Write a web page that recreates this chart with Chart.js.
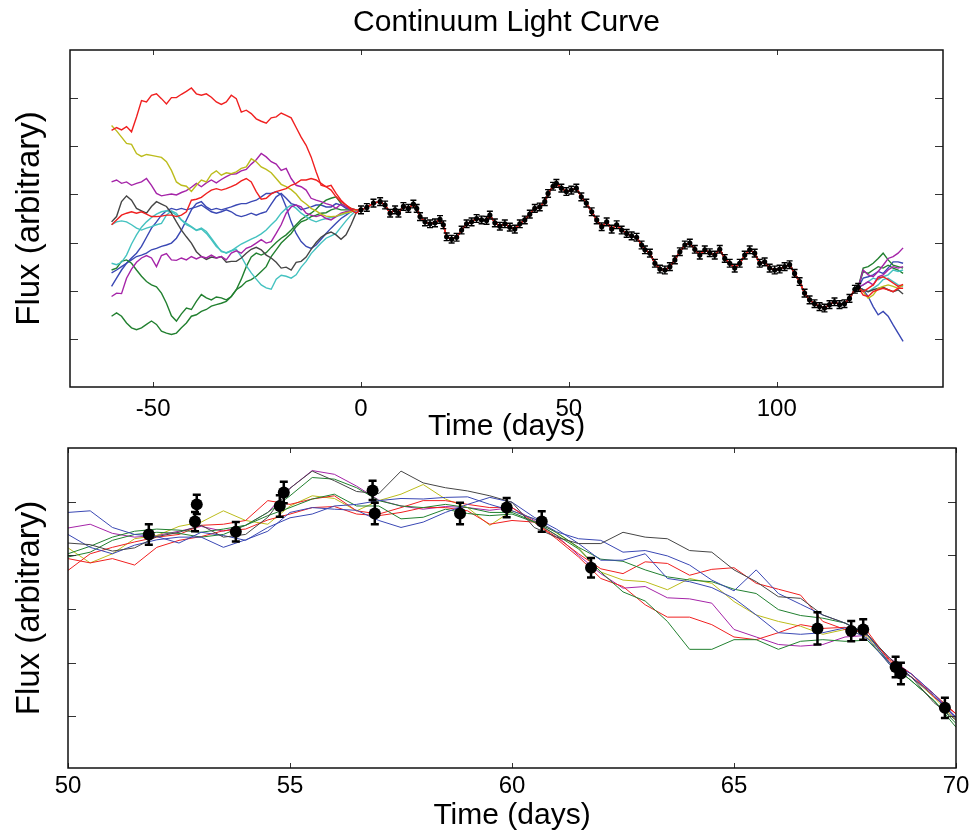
<!DOCTYPE html>
<html>
<head>
<meta charset="utf-8">
<script src="https://cdn.jsdelivr.net/npm/chart.js@4.4.0/dist/chart.umd.min.js"></script>
<style>
  body { margin: 0; background: #fff; }
  #wrap { position: relative; width: 969px; height: 831px; }
  #top { position: absolute; left: 0; top: 0; }
  #bot { position: absolute; left: 0; top: 442px; }
</style>
</head>
<body>
<div id="wrap">
  <canvas id="top" width="969" height="442"></canvas>
  <canvas id="bot" width="969" height="389"></canvas>
</div>
<script>
// ---------- top panel: whole light curve ----------
const topXTicks = [-50, 0, 50, 100];
const topYTicks = [0, 1, 2, 3, 4, 5];

// model curves before the data starts
const preT = [-60, -58.8, -57.6, -56.4, -55.2, -54, -52.8, -51.6, -50.4, -49.2, -48, -46.8, -45.6, -44.4, -43.2, -42, -40.8, -39.6, -38.4, -37.2,
  -36, -34.8, -33.6, -32.4, -31.2, -30, -28.8, -27.6, -26.4, -25.2, -24, -22.8, -21.6, -20.4, -19.2, -18, -16.8, -15.6, -14.4, -13.2,
  -12, -10.8, -9.6, -8.4, -7.2, -6, -4.8, -3.6, -2.4, -1.2];

const preRedA = [4.33, 4.39, 4.34, 4.41, 4.30, 4.61, 4.95, 4.92, 5.06, 5.09, 4.99, 4.88, 5.01, 5.01, 5.08, 5.14, 5.21, 5.09, 5.06, 5.09,
  5.02, 4.92, 4.87, 4.92, 5.06, 4.99, 4.71, 4.75, 4.68, 4.57, 4.52, 4.48, 4.59, 4.61, 4.69, 4.64, 4.59, 4.39, 4.19, 4.02,
  3.78, 3.47, 3.19, 3.16, 3.19, 3.02, 2.88, 2.78, 2.68, 2.61];
const preRedB = [2.37, 2.47, 2.57, 2.61, 2.64, 2.61, 2.64, 2.59, 2.54, 2.54, 2.55, 2.57, 2.57, 2.54, 2.57, 2.64, 2.88, 2.90, 2.94, 3.02,
  3.09, 3.12, 3.09, 3.12, 3.16, 3.21, 3.28, 3.33, 3.26, 3.06, 2.90, 2.92, 3.01, 3.06, 3.09, 3.12, 3.19, 3.23, 3.30, 3.30,
  3.33, 3.30, 3.23, 3.16, 3.09, 2.95, 2.85, 2.78, 2.71, 2.68];
const preYel = [4.43, 4.32, 4.19, 4.06, 4.04, 3.85, 3.79, 3.83, 3.81, 3.79, 3.77, 3.68, 3.50, 3.26, 3.19, 3.17, 3.06, 3.19, 3.30, 3.26,
  3.42, 3.49, 3.40, 3.45, 3.43, 3.47, 3.54, 3.57, 3.74, 3.68, 3.57, 3.52, 3.45, 3.33, 3.21, 3.16, 3.10, 3.01, 2.88, 2.80,
  2.71, 2.66, 2.59, 2.55, 2.54, 2.55, 2.59, 2.62, 2.64, 2.68];
const preMagA = [3.26, 3.30, 3.23, 3.26, 3.19, 3.23, 3.26, 3.33, 3.19, 3.02, 2.97, 2.99, 3.01, 2.99, 3.04, 3.08, 3.15, 3.23, 3.16, 3.24,
  3.30, 3.24, 3.31, 3.37, 3.42, 3.43, 3.49, 3.52, 3.63, 3.72, 3.85, 3.78, 3.68, 3.63, 3.50, 3.54, 3.33, 3.19, 3.16, 3.09,
  2.92, 2.88, 2.85, 2.81, 2.78, 2.71, 2.80, 2.74, 2.68, 2.66];
const preMagB = [0.88, 0.95, 0.94, 1.26, 1.45, 1.59, 1.68, 1.73, 1.68, 1.50, 1.73, 1.77, 1.64, 1.63, 1.68, 1.64, 1.71, 1.66, 1.71, 1.68,
  1.74, 1.68, 1.71, 1.64, 1.78, 1.83, 1.78, 1.88, 1.92, 1.99, 2.06, 1.99, 2.02, 2.19, 2.37, 2.61, 2.74, 2.78, 2.74, 2.61,
  2.57, 2.54, 2.57, 2.50, 2.47, 2.54, 2.61, 2.64, 2.66, 2.68];
const preBlk = [2.43, 2.54, 2.85, 2.97, 2.88, 2.71, 2.66, 2.61, 2.75, 2.85, 2.80, 2.75, 2.61, 2.43, 2.26, 2.12, 1.99, 1.81, 1.71, 1.65,
  1.70, 1.68, 1.71, 1.59, 1.61, 1.61, 1.68, 1.78, 1.86, 1.90, 1.85, 1.74, 1.68, 1.59, 1.47, 1.49, 1.43, 1.59, 1.61, 1.70,
  1.86, 2.00, 2.11, 2.18, 2.22, 2.16, 2.07, 2.16, 2.37, 2.61];
const preCyaA = [2.37, 2.43, 2.45, 2.43, 2.37, 2.30, 2.26, 2.30, 2.33, 2.37, 2.40, 2.57, 2.66, 2.61, 2.47, 2.40, 2.33, 2.26, 2.30, 2.23,
  2.09, 1.95, 1.81, 1.79, 1.83, 1.90, 1.97, 2.02, 2.07, 2.12, 2.18, 2.26, 2.37, 2.47, 2.61, 2.71, 2.78, 2.71, 2.61, 2.54,
  2.47, 2.43, 2.47, 2.50, 2.52, 2.54, 2.57, 2.61, 2.64, 2.66];
const preCyaB = [1.57, 1.54, 1.59, 1.74, 1.97, 2.16, 2.32, 2.43, 2.52, 2.59, 2.64, 2.66, 2.64, 2.57, 2.47, 2.37, 2.32, 2.25, 2.28, 2.19,
  2.06, 1.92, 1.83, 1.78, 1.83, 1.86, 1.71, 1.52, 1.37, 1.24, 1.12, 1.06, 1.03, 1.24, 1.32, 1.30, 1.26, 1.33, 1.49, 1.61,
  1.77, 1.88, 1.99, 2.09, 2.14, 2.19, 2.32, 2.45, 2.57, 2.66];
const preGrnA = [1.43, 1.47, 1.61, 1.64, 1.57, 1.43, 1.30, 1.19, 1.12, 1.08, 0.95, 0.74, 0.48, 0.37, 0.52, 0.64, 0.61, 0.78, 0.92, 0.85,
  0.81, 0.87, 0.85, 0.81, 0.88, 1.02, 1.24, 1.50, 1.70, 1.78, 1.74, 1.79, 1.90, 2.00, 2.09, 2.16, 2.26, 2.37, 2.48, 2.55,
  2.61, 2.69, 2.80, 2.88, 2.92, 2.95, 2.81, 2.74, 2.71, 2.68];
const preGrnB = [0.47, 0.54, 0.47, 0.33, 0.23, 0.19, 0.23, 0.30, 0.37, 0.30, 0.16, 0.12, 0.09, 0.12, 0.23, 0.33, 0.47, 0.50, 0.57, 0.61,
  0.68, 0.71, 0.74, 0.78, 0.88, 1.02, 1.09, 1.19, 1.23, 1.30, 1.40, 1.50, 1.71, 1.85, 1.99, 2.09, 2.19, 2.33, 2.43, 2.47,
  2.54, 2.57, 2.61, 2.62, 2.68, 2.71, 2.68, 2.68, 2.68, 2.68];
const preBluA = [1.37, 1.43, 1.50, 1.57, 1.64, 1.71, 1.74, 1.78, 1.85, 1.88, 1.92, 1.95, 1.99, 2.09, 2.26, 2.47, 2.68, 2.81, 2.85, 2.74,
  2.68, 2.71, 2.68, 2.71, 2.74, 2.78, 2.81, 2.81, 2.85, 2.88, 2.95, 3.02, 3.02, 3.06, 2.99, 2.74, 2.43, 2.19, 2.02, 1.92,
  1.88, 1.95, 2.07, 2.19, 2.30, 2.40, 2.50, 2.57, 2.64, 2.68];
const preBluB = [1.09, 1.26, 1.43, 1.57, 1.68, 1.78, 1.92, 2.11, 2.30, 2.43, 2.57, 2.66, 2.71, 2.68, 2.71, 2.68, 2.71, 2.74, 2.78, 2.71,
  2.64, 2.61, 2.64, 2.68, 2.64, 2.57, 2.54, 2.57, 2.61, 2.57, 2.61, 2.64, 2.80, 2.95, 3.02, 2.92, 2.81, 2.78, 2.68, 2.71,
  2.74, 2.78, 2.78, 2.74, 2.74, 2.81, 2.78, 2.71, 2.69, 2.68];

// observed continuum (black points with error bars)
const dataT = [0, 1.4, 3.0, 4.6, 5.8, 7.0, 8.2, 9.0, 10.2, 11.4, 12.6, 13.4, 14.2, 15.4, 16.6, 17.8, 19.0, 19.8, 20.6, 21.8,
  23.0, 24.2, 25.4, 26.6, 27.8, 29.0, 30.2, 31.0, 32.2, 33.4, 34.6, 35.8, 37.0, 38.2, 39.4, 40.6, 41.8, 43.0, 44.2, 45.0,
  46.2, 47.0, 48.2, 49.4, 50.6, 51.8, 53.0, 54.2, 55.5, 56.7, 57.9, 59.1, 60.3, 61.5, 62.7, 63.9, 65.1, 66.3, 67.5, 68.3,
  69.5, 70.7, 71.9, 73.1, 74.3, 75.5, 76.7, 77.9, 79.1, 80.3, 81.5, 82.7, 83.9, 85.1, 86.3, 87.5, 88.7, 89.9, 91.1, 92.3,
  93.5, 94.7, 95.9, 97.1, 98.3, 99.5, 100.7, 101.9, 103.1, 104.3, 105.5, 106.7, 107.9, 109.1, 110.3, 111.5, 112.7, 113.9, 115.1, 116.3,
  117.5, 118.8, 119.6];
const dataF = [2.68, 2.73, 2.82, 2.85, 2.78, 2.61, 2.68, 2.61, 2.75, 2.71, 2.80, 2.71, 2.54, 2.43, 2.39, 2.41, 2.48, 2.37, 2.12, 2.07,
  2.11, 2.26, 2.39, 2.43, 2.50, 2.47, 2.46, 2.57, 2.41, 2.34, 2.39, 2.32, 2.28, 2.39, 2.47, 2.59, 2.71, 2.74, 2.85, 3.02,
  3.17, 3.23, 3.13, 3.06, 3.09, 3.13, 2.95, 2.82, 2.64, 2.47, 2.33, 2.43, 2.28, 2.37, 2.26, 2.19, 2.14, 2.11, 1.95, 1.85,
  1.78, 1.57, 1.45, 1.43, 1.50, 1.64, 1.81, 1.95, 1.99, 1.86, 1.74, 1.85, 1.79, 1.74, 1.86, 1.67, 1.57, 1.47, 1.57, 1.74,
  1.85, 1.78, 1.57, 1.60, 1.47, 1.43, 1.45, 1.50, 1.54, 1.36, 1.19, 0.95, 0.81, 0.73, 0.67, 0.64, 0.71, 0.77, 0.71, 0.73,
  0.84, 1.03, 1.07];
const dataErr = 0.08;

// model curves after the data ends
const postT = [120.8, 122, 123.2, 124.4, 125.6, 126.8, 128, 129.2, 130.4];
const postRedA = [0.98, 1.05, 1.12, 1.26, 1.29, 1.23, 1.16, 1.09, 1.13];
const postRedB = [0.91, 0.88, 0.98, 1.02, 1.05, 1.02, 0.98, 1.05, 1.05];
const postYel = [0.98, 0.84, 0.91, 1.05, 1.09, 1.12, 1.09, 1.05, 1.12];
const postMagA = [1.43, 1.33, 1.29, 1.40, 1.53, 1.67, 1.71, 1.78, 1.89];
const postMagB = [1.12, 1.19, 1.12, 1.29, 1.33, 1.43, 1.50, 1.47, 1.50];
const postBlk = [1.02, 0.98, 1.02, 1.05, 1.07, 1.02, 0.98, 1.02, 0.93];
const postCyaA = [1.12, 1.19, 1.26, 1.23, 1.29, 1.33, 1.43, 1.40, 1.43];
const postCyaB = [1.02, 0.98, 1.05, 1.12, 1.23, 1.26, 1.19, 1.12, 1.09];
const postGrnA = [1.47, 1.50, 1.57, 1.67, 1.78, 1.64, 1.53, 1.50, 1.47];
const postGrnB = [1.40, 1.36, 1.43, 1.50, 1.47, 1.53, 1.47, 1.43, 1.36];
const postBluA = [1.26, 1.29, 1.33, 1.40, 1.36, 1.47, 1.60, 1.60, 1.57];
const postBluB = [1.02, 0.88, 0.67, 0.50, 0.57, 0.47, 0.29, 0.12, -0.05];

// ---------- bottom panel: zoom on days 50-70 ----------
const botXTicks = [50, 55, 60, 65, 70];
const botYTicks = [0, 1, 2, 3, 4];
const botT = [50, 50.5, 51, 51.5, 52, 52.5, 53, 53.5, 54, 54.5, 55, 55.5, 56, 56.5, 57, 57.5, 58, 58.5, 59, 59.5,
  60, 60.5, 61, 61.5, 62, 62.5, 63, 63.5, 64, 64.5, 65, 65.5, 66, 66.5, 67, 67.5, 68, 68.5, 69, 69.5, 70];
const botBlk = [3.23, 3.20, 3.08, 3.14, 3.35, 3.43, 3.56, 3.34, 3.39, 3.71, 4.25, 4.57, 4.39, 4.19, 4.15, 4.57, 4.35, 4.26, 4.20, 4.11,
  3.99, 3.52, 3.34, 3.22, 3.22, 3.43, 3.34, 3.31, 3.09, 3.06, 2.73, 2.51, 2.23, 2.20, 1.89, 1.74, 1.53, 1.09, 0.73, 0.26, -0.07];
const botBluA = [3.80, 3.83, 3.52, 3.39, 3.35, 3.23, 3.43, 3.37, 3.28, 3.52, 3.70, 3.77, 3.92, 3.95, 4.02, 4.06, 4.05, 4.08, 4.09, 3.95,
  3.83, 3.68, 3.44, 3.31, 3.28, 3.06, 3.09, 2.99, 2.82, 2.54, 2.34, 2.73, 2.29, 2.09, 1.89, 1.74, 1.53, 1.00, 0.79, 0.42, -0.01];
const botBluB = [3.39, 3.15, 3.03, 3.19, 3.29, 3.34, 3.34, 3.15, 3.29, 3.45, 3.80, 3.89, 3.86, 3.84, 3.65, 3.52, 3.62, 3.80, 3.95, 4.08,
  3.99, 3.71, 3.49, 3.22, 2.91, 2.91, 3.03, 2.57, 2.51, 2.40, 2.20, 1.89, 1.56, 1.53, 1.56, 1.65, 1.46, 0.97, 0.73, 0.39, -0.04];
const botGrnA = [3.03, 3.17, 3.34, 3.45, 3.49, 3.47, 3.43, 3.49, 3.56, 3.80, 4.11, 4.45, 4.42, 4.26, 4.02, 3.92, 3.89, 3.95, 3.89, 3.80,
  3.80, 3.63, 3.43, 3.15, 2.93, 2.89, 2.73, 2.60, 2.54, 2.51, 2.37, 2.29, 1.99, 1.88, 1.83, 1.74, 1.53, 1.00, 0.66, 0.30, -0.13];
const botGrnB = [2.97, 3.06, 3.28, 3.39, 3.43, 3.41, 3.34, 3.39, 3.56, 3.74, 3.89, 4.05, 4.14, 3.92, 3.92, 3.68, 3.71, 3.86, 3.78, 3.74,
  3.77, 3.62, 3.38, 3.12, 2.69, 2.32, 2.15, 1.77, 1.25, 1.25, 1.43, 1.43, 1.25, 1.40, 1.43, 1.40, 1.42, 1.00, 0.66, 0.30, -0.20];
const botRedA = [2.72, 3.03, 3.15, 3.25, 3.34, 3.39, 3.56, 3.58, 3.65, 4.02, 3.95, 4.05, 4.11, 3.83, 3.77, 3.89, 4.02, 4.02, 3.95, 3.89,
  3.89, 3.62, 3.34, 3.03, 2.75, 2.66, 2.88, 2.85, 2.63, 2.74, 2.77, 2.48, 2.37, 2.26, 1.77, 1.62, 1.59, 1.03, 0.73, 0.42, 0.05];
const botRedB = [2.94, 2.86, 2.94, 2.82, 3.15, 3.28, 3.35, 3.46, 3.49, 3.66, 3.77, 3.89, 3.91, 3.77, 3.74, 3.80, 3.89, 3.89, 3.83, 3.58,
  3.65, 3.62, 3.31, 2.97, 2.57, 2.42, 2.08, 1.85, 1.85, 1.71, 1.48, 1.43, 1.56, 1.71, 1.64, 1.66, 1.53, 1.06, 0.79, 0.36, 0.05];
const botYel = [3.14, 2.86, 3.03, 3.31, 3.37, 3.54, 3.62, 3.83, 3.65, 3.58, 3.92, 4.11, 4.06, 3.83, 4.02, 4.14, 4.32, 4.05, 3.89, 3.56,
  3.83, 3.68, 3.42, 3.14, 2.69, 2.54, 2.51, 2.36, 2.57, 2.48, 2.14, 1.89, 1.77, 1.68, 1.53, 1.62, 1.49, 0.97, 0.73, 0.36, -0.07];
const botMag = [3.51, 3.58, 3.41, 3.34, 3.37, 3.45, 3.54, 3.45, 3.56, 3.80, 4.25, 4.58, 4.51, 4.29, 4.03, 3.92, 3.86, 3.91, 3.89, 3.84,
  3.89, 3.65, 3.37, 3.00, 2.66, 2.39, 2.42, 2.21, 2.19, 2.11, 1.62, 1.48, 1.34, 1.31, 1.34, 1.48, 1.51, 1.09, 0.79, 0.42, -0.04];

const botDataT = [51.82, 52.90, 52.86, 53.78, 54.77, 54.86, 56.86, 56.91, 58.83, 59.88, 60.67, 61.78, 66.88, 67.64, 67.91, 68.64, 68.76, 69.75];
const botDataF = [3.39, 3.95, 3.63, 3.44, 3.92, 4.17, 4.21, 3.78, 3.78, 3.89, 3.63, 2.77, 1.64, 1.59, 1.62, 0.92, 0.80, 0.16];
const botDataE = [0.19, 0.18, 0.18, 0.18, 0.20, 0.20, 0.18, 0.20, 0.20, 0.18, 0.19, 0.18, 0.30, 0.19, 0.19, 0.19, 0.20, 0.19];

const RED = '#f02020', YEL = '#bcbc1c', MAG = '#a524a8', BLK = '#454545',
      BLU = '#3a48b4', CYA = '#44c2c0', GRN = '#228030';
const FONT = 'Liberation Sans, Arial, sans-serif';

function pts(xs, ys) { return xs.map((x, i) => ({x: x, y: ys[i]})); }

// plugin: box frame + inward tick marks on all four sides
const frameTicks = {
  id: 'frameTicks',
  afterDatasetsDraw(chart, args, opts) {
    const {ctx, chartArea: a, scales} = chart;
    ctx.save();
    ctx.strokeStyle = '#333';
    ctx.lineWidth = 1;
    ctx.beginPath();
    scales.x.ticks.forEach(t => {
      const px = Math.round(scales.x.getPixelForValue(t.value)) + 0.5;
      ctx.moveTo(px, a.bottom); ctx.lineTo(px, a.bottom - opts.xLen);
      ctx.moveTo(px, a.top); ctx.lineTo(px, a.top + opts.xLen);
    });
    scales.y.ticks.forEach(t => {
      const py = Math.round(scales.y.getPixelForValue(t.value)) + 0.5;
      ctx.moveTo(a.left, py); ctx.lineTo(a.left + opts.yLen, py);
      ctx.moveTo(a.right, py); ctx.lineTo(a.right - opts.yLen, py);
    });
    ctx.stroke();
    ctx.strokeStyle = '#111';
    ctx.lineWidth = 1.5;
    ctx.strokeRect(a.left, a.top, a.right - a.left, a.bottom - a.top);
    ctx.restore();
  }
};

// plugin: vertical error bars with caps for datasets that carry errBar settings
const errorBars = {
  id: 'errorBars',
  afterDatasetsDraw(chart) {
    const {ctx} = chart;
    const ys = chart.scales.y;
    chart.data.datasets.forEach((ds, i) => {
      if (!ds.errBar) return;
      const meta = chart.getDatasetMeta(i);
      ctx.save();
      ctx.strokeStyle = '#000';
      ctx.lineWidth = ds.errBar.width;
      ctx.beginPath();
      meta.data.forEach((p, j) => {
        const d = ds.data[j];
        const y1 = ys.getPixelForValue(d.y + d.e), y2 = ys.getPixelForValue(d.y - d.e);
        const c = ds.errBar.cap;
        ctx.moveTo(p.x, y1); ctx.lineTo(p.x, y2);
        ctx.moveTo(p.x - c, y1); ctx.lineTo(p.x + c, y1);
        ctx.moveTo(p.x - c, y2); ctx.lineTo(p.x + c, y2);
      });
      ctx.stroke();
      ctx.restore();
    });
  }
};

function modelLine(pre, post, color) {
  const d = pts(preT, pre).concat(pts(dataT, dataF)).concat(pts(postT, post));
  return {data: d, borderColor: color, borderWidth: 1.4, pointRadius: 0, fill: false, tension: 0};
}
function botLine(vals, color) {
  return {data: pts(botT, vals), borderColor: color, borderWidth: 1, pointRadius: 0, fill: false, tension: 0};
}

function axes(xmin, xmax, xticks, ymin, ymax, yticks, yWidth, xHeight, xTitlePad, tickPad) {
  return {
    x: {
      type: 'linear', min: xmin, max: xmax,
      afterBuildTicks: s => { s.ticks = xticks.map(v => ({value: v})); },
      ticks: {font: {family: FONT, size: 24}, color: '#000', padding: tickPad, maxRotation: 0, autoSkip: false},
      grid: {display: false, drawTicks: false},
      border: {display: false},
      title: {display: true, text: 'Time (days)', color: '#000',
        font: {family: FONT, size: 30, lineHeight: 1}, padding: {top: 0, bottom: xTitlePad}},
      afterFit: s => { s.height = xHeight; s.paddingLeft = 0; s.paddingRight = 0; }
    },
    y: {
      min: ymin, max: ymax,
      afterBuildTicks: s => { s.ticks = yticks.map(v => ({value: v})); },
      ticks: {display: false},
      grid: {display: false, drawTicks: false},
      border: {display: false},
      title: {display: true, text: 'Flux (arbitrary)', color: '#000',
        font: {family: FONT, size: 33, lineHeight: 1.2}, padding: {top: 10, bottom: 0}},
      afterFit: s => { s.width = yWidth; }
    }
  };
}

new Chart(document.getElementById('top'), {
  type: 'line',
  data: {
    datasets: [
      {data: dataT.map((t, i) => ({x: t, y: dataF[i], e: dataErr})), showLine: false,
        pointRadius: 2.6, pointBackgroundColor: '#000', pointBorderColor: '#000', pointBorderWidth: 0,
        errBar: {width: 1.4, cap: 3}},
      modelLine(preRedA, postRedA, RED),
      modelLine(preRedB, postRedB, RED),
      modelLine(preYel, postYel, YEL),
      modelLine(preMagA, postMagA, MAG),
      modelLine(preMagB, postMagB, MAG),
      modelLine(preBlk, postBlk, BLK),
      modelLine(preCyaA, postCyaA, CYA),
      modelLine(preCyaB, postCyaB, CYA),
      modelLine(preGrnA, postGrnA, GRN),
      modelLine(preGrnB, postGrnB, GRN),
      modelLine(preBluA, postBluA, BLU),
      modelLine(preBluB, postBluB, BLU)
    ]
  },
  options: {
    responsive: false, animation: false, events: [],
    layout: {padding: {left: 0, right: 26, top: 0, bottom: 0}},
    plugins: {
      legend: {display: false},
      tooltip: {enabled: false},
      title: {display: true, text: 'Continuum Light Curve', color: '#000', fullSize: false,
        font: {family: FONT, size: 30, weight: 'normal', lineHeight: 1.2}, padding: {top: 5, bottom: 9}},
      frameTicks: {xLen: 5, yLen: 8}
    },
    scales: axes(-70, 140, topXTicks, -1, 6, topYTicks, 70, 55, 0, 8)
  },
  plugins: [frameTicks, errorBars]
});

new Chart(document.getElementById('bot'), {
  type: 'line',
  data: {
    datasets: [
      {data: botDataT.map((t, i) => ({x: t, y: botDataF[i], e: botDataE[i]})), showLine: false,
        pointRadius: 6, pointBackgroundColor: '#000', pointBorderColor: '#000', pointBorderWidth: 0,
        errBar: {width: 2.5, cap: 4}},
      botLine(botBlk, BLK),
      botLine(botBluA, BLU),
      botLine(botBluB, BLU),
      botLine(botGrnA, GRN),
      botLine(botGrnB, GRN),
      botLine(botRedA, RED),
      botLine(botRedB, RED),
      botLine(botYel, YEL),
      botLine(botMag, MAG)
    ]
  },
  options: {
    responsive: false, animation: false, events: [],
    layout: {padding: {left: 0, right: 13, top: 3, bottom: 0}},
    plugins: {
      legend: {display: false},
      tooltip: {enabled: false},
      frameTicks: {xLen: 5, yLen: 8}
    },
    scales: axes(50, 70, botXTicks, -0.96, 5, botYTicks, 68, 63, 0, 4)
  },
  plugins: [frameTicks, errorBars]
});
</script>
</body>
</html>
